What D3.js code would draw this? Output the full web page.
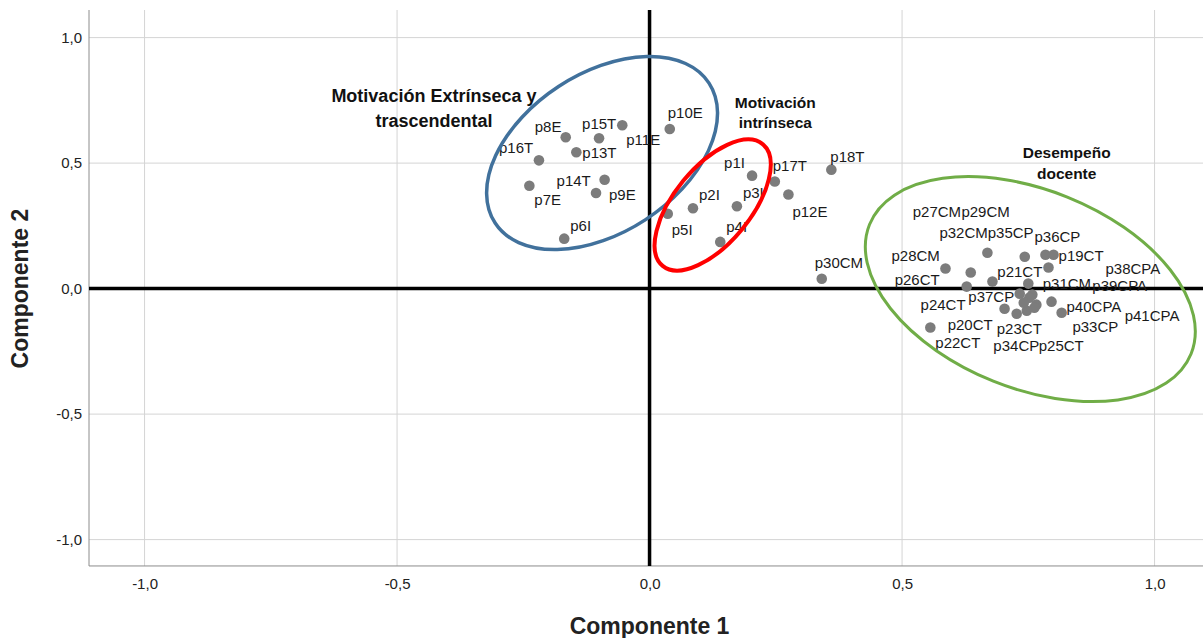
<!DOCTYPE html>
<html>
<head>
<meta charset="utf-8">
<script src="https://cdn.jsdelivr.net/npm/d3@7"></script>
<style>
  body { margin: 0; background: #fff; }
  svg { font-family: "Liberation Sans", Arial, sans-serif; display: block; }
  .grid line { stroke: #d4d4d4; stroke-width: 1; }
  .axis path, .axis line { stroke: #8c8c8c; }
  .axis text { font-size: 15px; fill: #222; }
  .pt-label { font-size: 15px; fill: #1a1a1a; }
  .note { font-weight: bold; fill: #111; }
  .axis-title { font-size: 23px; font-weight: bold; fill: #222; }
</style>
</head>
<body>
<svg width="1203" height="638"></svg>
<script>
// --- data: component loadings ---
const items = [
  "p8E", "p15T", "p11E", "p16T", "p13T", "p14T", "p7E", "p9E", "p6I",
  "p10E", "p1I", "p17T", "p18T", "p12E", "p3I", "p2I", "p5I", "p4I", "p30CM",
  "p28CM", "p27CM", "p29CM", "p32CM", "p35CP", "p36CP", "p19CT", "p38CPA",
  "p21CT", "p26CT", "p31CM", "p39CPA", "p37CP", "p24CT", "p40CPA", "p41CPA",
  "p20CT", "p23CT", "p33CP", "p22CT", "p34CP", "p25CT"
];
const comp1 = [
  -0.166, -0.100, -0.054, -0.219, -0.145, -0.089, -0.238, -0.106, -0.169,
  0.040, 0.203, 0.248, 0.360, 0.275, 0.173, 0.086, 0.036, 0.140, 0.341,
  0.586, 0.636, 0.669, 0.679, 0.743, 0.784, 0.800, 0.790,
  0.750, 0.628, 0.733, 0.758, 0.752, 0.703, 0.796, 0.816,
  0.727, 0.747, 0.766, 0.556, 0.762, 0.741
];
const comp2 = [
  0.603, 0.599, 0.651, 0.511, 0.543, 0.434, 0.410, 0.381, 0.199,
  0.636, 0.450, 0.427, 0.474, 0.375, 0.328, 0.320, 0.298, 0.186, 0.039,
  0.080, 0.064, 0.143, 0.028, 0.127, 0.135, 0.135, 0.084,
  0.020, 0.008, -0.020, -0.024, -0.036, -0.080, -0.052, -0.096,
  -0.100, -0.088, -0.064, -0.155, -0.076, -0.056
];
const ticks = [-1.0, -0.5, 0.0, 0.5, 1.0];

// group notes
const notes = [
  { lines: ["Motivación Extrínseca y", "trascendental"], x: -0.427, y: 0.770, size: 18, lh: 25 },
  { lines: ["Motivación", "intrínseca"], x: 0.249, y: 0.742, size: 15.5, lh: 20 },
  { lines: ["Desempeño", "docente"], x: 0.826, y: 0.542, size: 15.5, lh: 21 }
];
const groups = [
  { color: "#41719c", cx: -0.094, cy: 0.540 },
  { color: "#ff0000", cx: 0.125, cy: 0.333 },
  { color: "#70ad47", cx: 0.754, cy: -0.002 }
];

// --- layout (pixels) ---
const labelOffset = {
  p8E: [-31, -11], p15T: [-17, -15], p11E: [4, 15], p16T: [-40, -13], p13T: [6, 0],
  p14T: [-48, 1], p7E: [5, 14], p9E: [13, 2], p6I: [6, -13],
  p10E: [-2, -16], p1I: [-28, -13], p17T: [-2, -16], p18T: [-1, -13], p12E: [4, 17],
  p3I: [6, -14], p2I: [6, -14], p5I: [4, 16], p4I: [6, -15], p30CM: [-7, -16],
  p28CM: [-54, -13], p27CM: [-58, -61], p29CM: [-26, -41], p32CM: [-53, -49],
  p35CP: [-37, -24], p36CP: [-11, -18], p19CT: [5, 1], p38CPA: [57, 1],
  p21CT: [-31, -12], p26CT: [-72, -7], p31CM: [23, -10], p39CPA: [60, -9],
  p37CP: [-61, -1], p24CT: [-84, -4], p40CPA: [15, 5], p41CPA: [63, 3],
  p20CT: [-69, 11], p23CT: [-30, 18], p33CP: [36, 22], p22CT: [5, 15],
  p34CP: [-41, 38], p25CT: [15, 43]
};
const ellipseShape = [
  { rx: 127.8, ry: 79.5, rot: -33.2, w: 3.5 },
  { rx: 78.8, ry: 38.1, rot: -50.6, w: 4 },
  { rx: 173.3, ry: 99.2, rot: 21.9, w: 3 }
];

const svg = d3.select("svg");
const plotLeft = 89, plotTop = 10, pxPerX = 505, pxPerY = 251;
const x = d3.scaleLinear().domain([-1.11, 1.11]).range([plotLeft, plotLeft + 2.22 * pxPerX]);
const y = d3.scaleLinear().domain([-1.105, 1.11]).range([plotTop + 2.215 * pxPerY, plotTop]);
const plotBottom = y(-1.105), plotRight = 1203;
const fmt = d => d3.format(".1f")(d).replace(".", ",").replace("−", "-");

// grid
svg.append("g").attr("class", "grid")
  .selectAll("line").data(ticks.filter(t => t !== 0)).join("line")
  .attr("x1", d => x(d)).attr("x2", d => x(d)).attr("y1", plotTop).attr("y2", plotBottom);
svg.append("g").attr("class", "grid")
  .selectAll("line").data(ticks.filter(t => t !== 0)).join("line")
  .attr("x1", plotLeft).attr("x2", plotRight).attr("y1", d => y(d)).attr("y2", d => y(d));

// axes
svg.append("g").attr("class", "axis")
  .attr("transform", `translate(${plotLeft},0)`)
  .call(d3.axisLeft(y).tickValues(ticks).tickSize(0).tickPadding(7).tickFormat(fmt))
  .call(g => g.select(".domain").attr("d", `M0,${plotTop}V${plotBottom}`));
svg.append("g").attr("class", "axis")
  .attr("transform", `translate(0,${plotBottom})`)
  .call(d3.axisBottom(x).tickValues(ticks).tickSize(0).tickPadding(12).tickFormat(fmt))
  .call(g => g.select(".domain").attr("d", `M${plotLeft},0H${plotRight}`));

// reference lines through origin
svg.append("line").attr("x1", plotLeft).attr("x2", plotRight).attr("y1", y(0)).attr("y2", y(0))
  .attr("stroke", "#000").attr("stroke-width", 3.5);
svg.append("line").attr("x1", x(0)).attr("x2", x(0)).attr("y1", plotTop).attr("y2", plotBottom)
  .attr("stroke", "#000").attr("stroke-width", 3.5);

// points + labels
const pts = items.map((name, i) => ({ name, c1: comp1[i], c2: comp2[i] }));
svg.append("g").selectAll("circle").data(pts).join("circle")
  .attr("cx", d => x(d.c1)).attr("cy", d => y(d.c2)).attr("r", 5.3)
  .attr("fill", "#7c7c7c");
svg.append("g").selectAll("text").data(pts).join("text")
  .attr("class", "pt-label")
  .attr("x", d => x(d.c1) + labelOffset[d.name][0])
  .attr("y", d => y(d.c2) + labelOffset[d.name][1])
  .attr("dy", "0.35em")
  .text(d => d.name);

// group ellipses
svg.append("g").selectAll("ellipse").data(groups).join("ellipse")
  .attr("transform", (d, i) => `translate(${x(d.cx)},${y(d.cy)}) rotate(${ellipseShape[i].rot})`)
  .attr("rx", (d, i) => ellipseShape[i].rx).attr("ry", (d, i) => ellipseShape[i].ry)
  .attr("fill", "none").attr("stroke", d => d.color)
  .attr("stroke-width", (d, i) => ellipseShape[i].w);

// group notes
notes.forEach(n => {
  const t = svg.append("text").attr("class", "note")
    .attr("text-anchor", "middle").style("font-size", n.size + "px");
  n.lines.forEach((line, i) => {
    t.append("tspan").attr("x", x(n.x)).attr("y", y(n.y) + i * n.lh).attr("dy", "0.35em").text(line);
  });
});

// axis titles
svg.append("text").attr("class", "axis-title").attr("text-anchor", "middle")
  .attr("x", x(0)).attr("y", 626).attr("dy", "0.35em").text("Componente 1");
svg.append("text").attr("class", "axis-title").attr("text-anchor", "middle")
  .attr("transform", `translate(20,${y(0)}) rotate(-90)`).attr("dy", "0.35em").text("Componente 2");
</script>
</body>
</html>
